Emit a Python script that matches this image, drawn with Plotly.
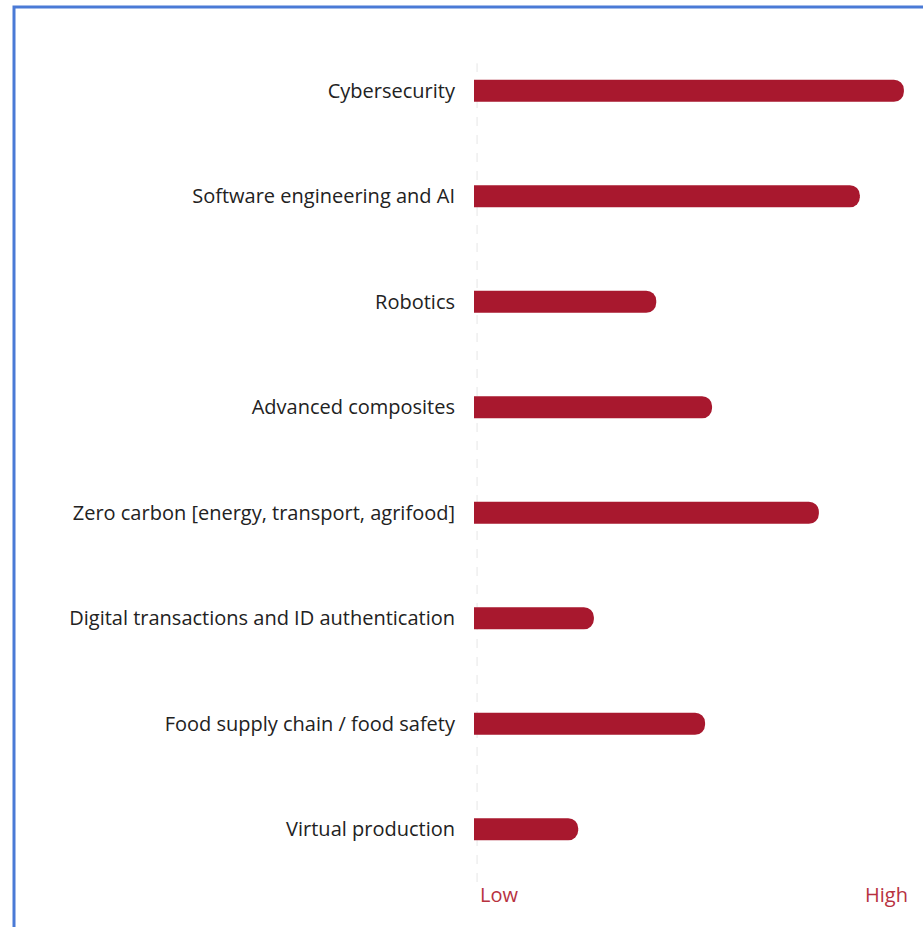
import plotly.graph_objects as go

categories = [
    "Cybersecurity",
    "Software engineering and AI",
    "Robotics",
    "Advanced composites",
    "Zero carbon [energy, transport, agrifood]",
    "Digital transactions and ID authentication",
    "Food supply chain / food safety",
    "Virtual production",
]
values = [98.6, 88.5, 41.8, 54.6, 79.1, 27.5, 53.0, 23.9]
axis_labels = ["Low", "High"]

BAR = "#a8182e"
LABEL_RED = "#b8323f"
FONT = "Open Sans, Lato, sans-serif"

fig = go.Figure(go.Bar(
    x=values,
    y=categories,
    orientation="h",
    marker=dict(color=BAR, cornerradius=10, line=dict(width=0)),
    hoverinfo="x+y",
))

fig.update_layout(
    width=923, height=927,
    margin=dict(l=474, r=13, t=38, b=45),
    paper_bgcolor="white",
    plot_bgcolor="white",
    bargap=0.79,
    showlegend=False,
    font=dict(family=FONT, color="#222222"),
    xaxis=dict(range=[0, 100], showgrid=False, zeroline=False, showticklabels=False,
               showline=False, fixedrange=True),
    yaxis=dict(autorange="reversed", showgrid=False, zeroline=False, showline=False,
               ticks="", ticklabelstandoff=18, tickfont=dict(size=20, color="#222222", family=FONT)),
)

# faint dashed baseline
fig.add_shape(type="line", xref="x", yref="paper", x0=0.7, x1=0.7, y0=0.0, y1=0.97,
              line=dict(color="#e6e6e6", width=1, dash="dash"), layer="below")

fig.add_annotation(text=axis_labels[0], xref="x", yref="paper", x=1.0, y=0.004,
                   xanchor="left", yanchor="top", showarrow=False,
                   font=dict(size=20, color=LABEL_RED, family=FONT))
fig.add_annotation(text=axis_labels[1], xref="x", yref="paper", x=100, y=0.004,
                   xanchor="right", yanchor="top", showarrow=False,
                   font=dict(size=20, color=LABEL_RED, family=FONT))

# blue frame (left and top edges visible)
fig.add_shape(type="rect", xref="paper", yref="paper",
              x0=-460/436, x1=1.2, y0=-0.2, y1=1 + 31/844,
              line=dict(color="#4a7ad6", width=3), fillcolor="rgba(0,0,0,0)", layer="above")

fig.write_html("out.html")
